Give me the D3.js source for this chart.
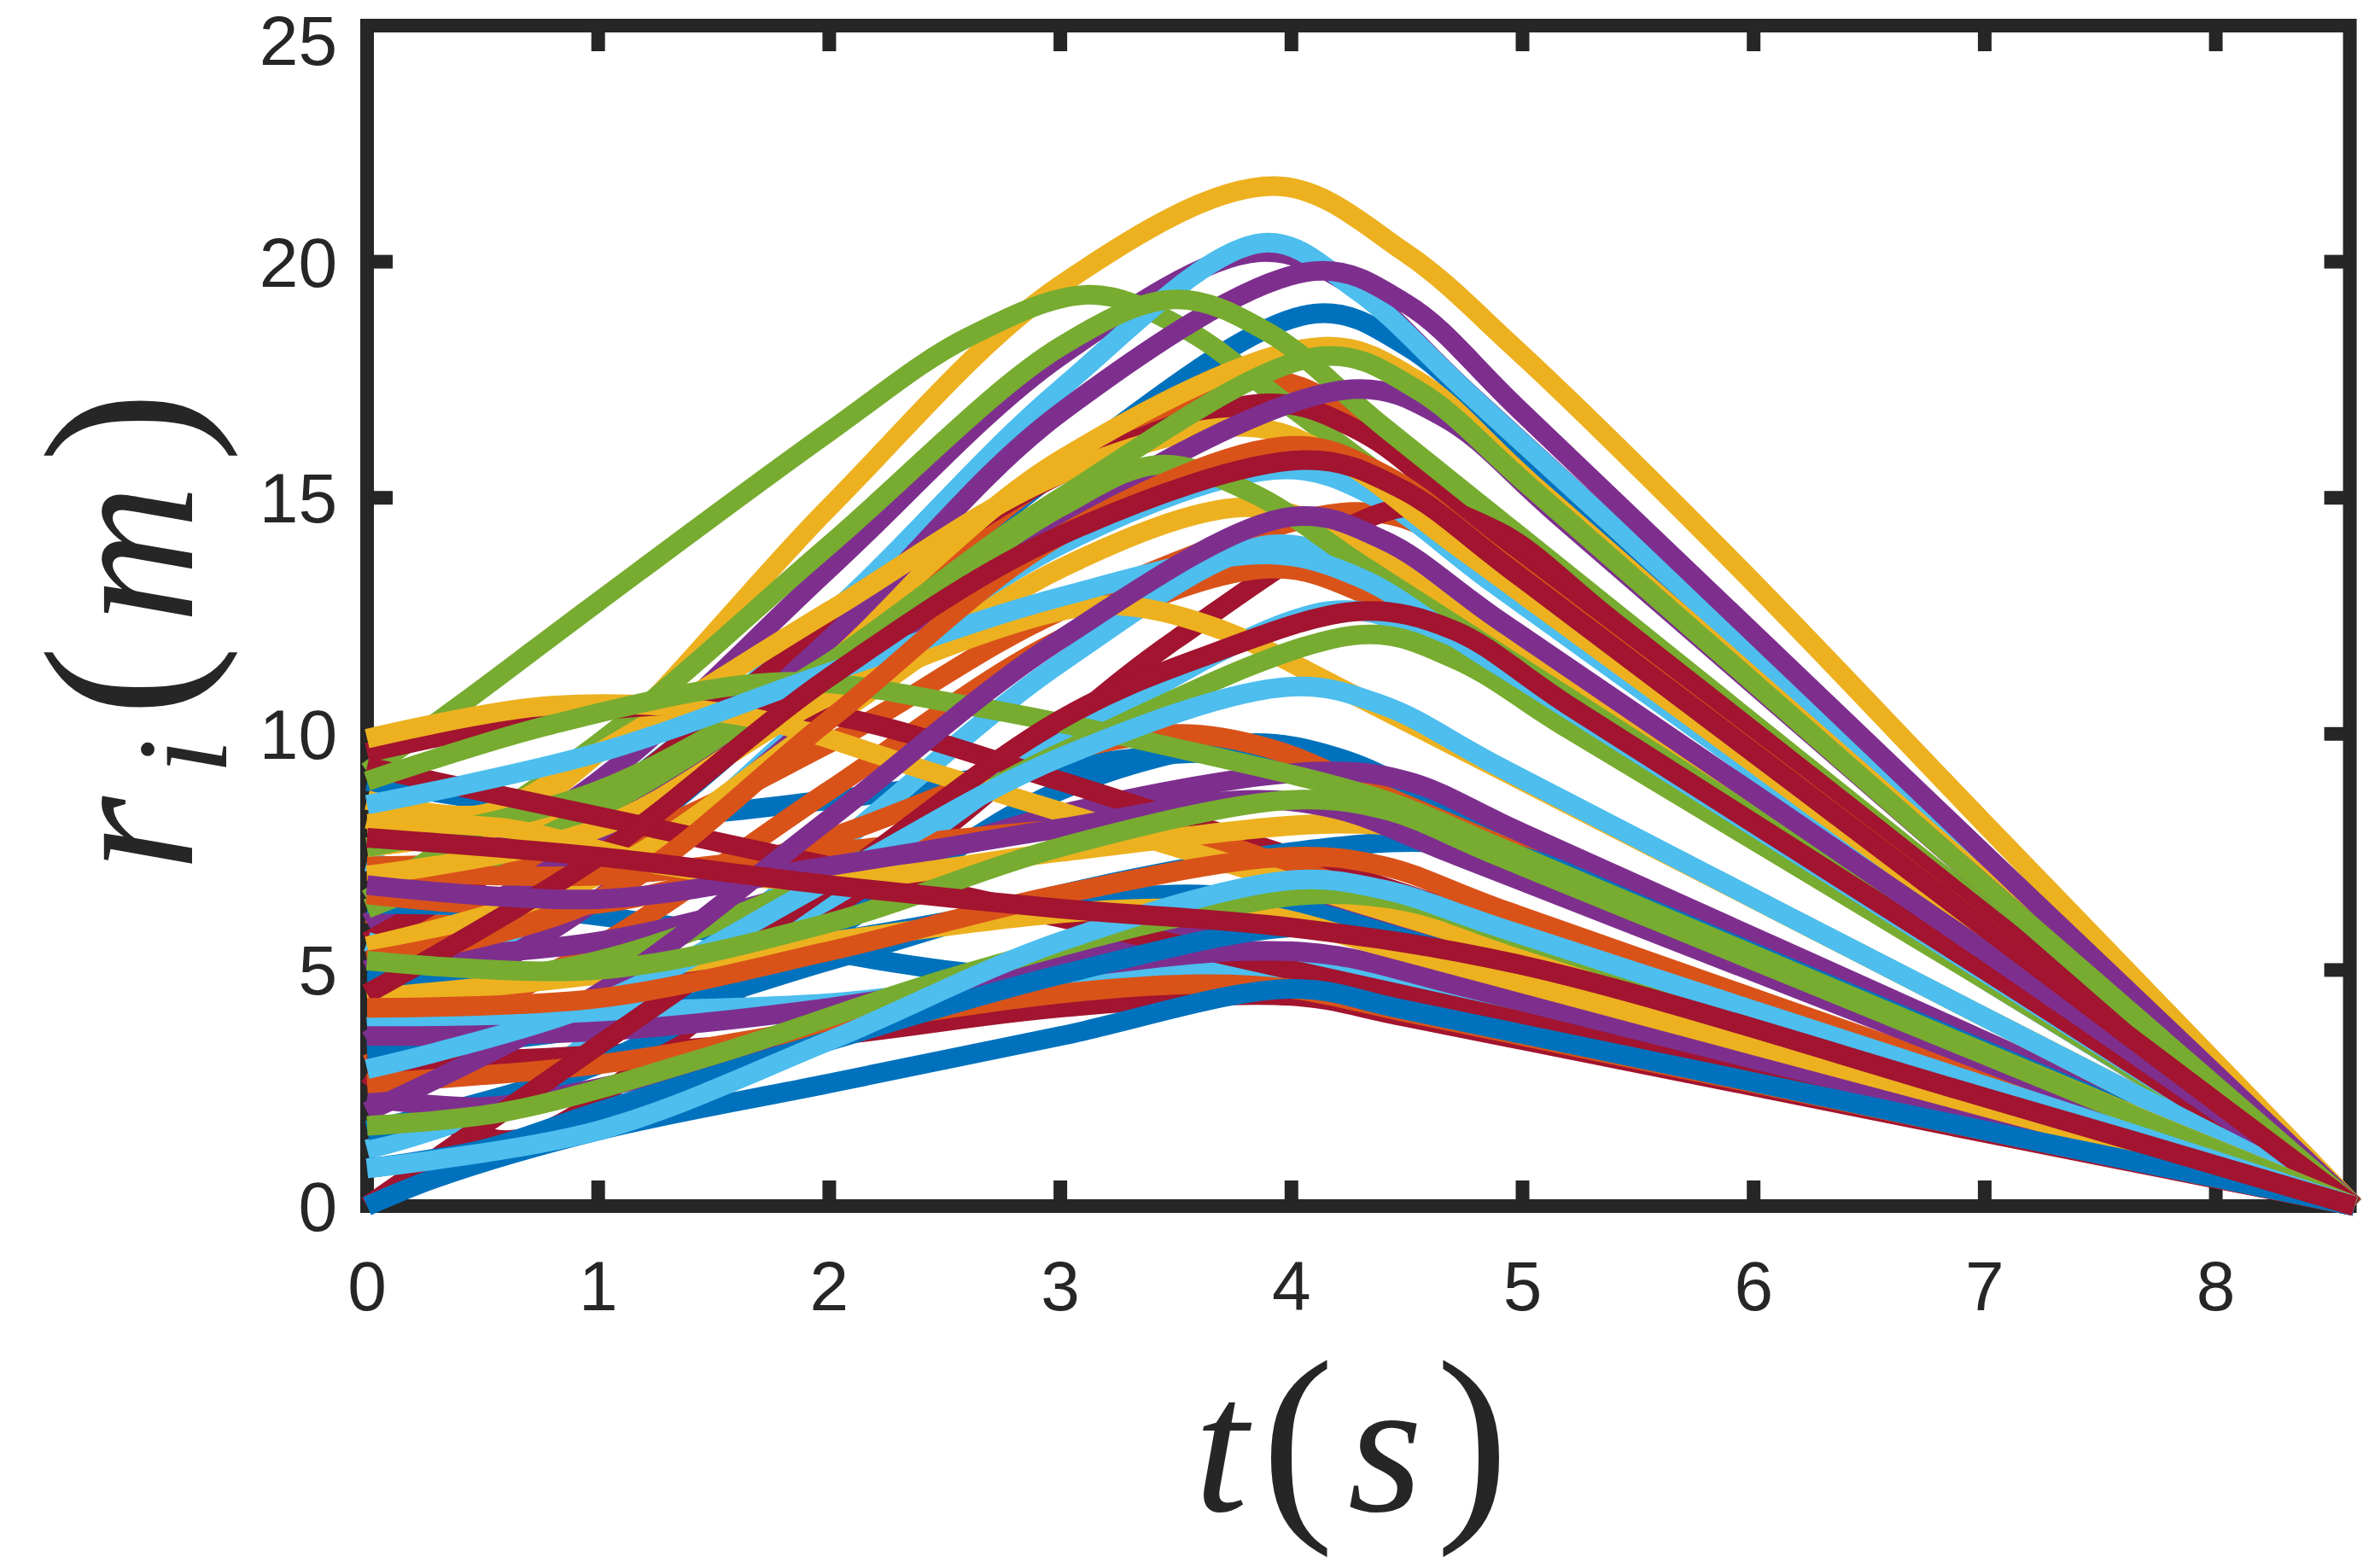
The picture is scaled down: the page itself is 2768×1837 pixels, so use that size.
<!DOCTYPE html>
<html>
<head>
<meta charset="utf-8">
<script src="https://cdn.jsdelivr.net/npm/d3@7"></script>
<style>
  body { margin: 0; background: #fff; }
</style>
</head>
<body>
<div id="chart"></div>
<script>
// MATLAB default colour order
const palette = ["#0072BD", "#D95319", "#EDB120", "#7E2F8E", "#77AC30", "#4DBEEE", "#A2142F"];

// each line: [t, r] knots; shortly after its peak every
// trajectory runs straight into (8.6, 0)
const blueLines = [
  [[0,5.0],[1,7.4],[2,11.4],[3,15.6],[4.1,18.9],[4.5,18.2],[5.0,16.0],[7,7.1],[8.6,0]],
  [[0,9.0],[0.5,8.6],[1,8.2],[2,8.6],[3,9.3],[3.7,9.6],[4.1,9.3],[4.6,8.3],[7,3.3],[8.6,0]],
  [[0,6.4],[0.7,6.3],[1.5,5.8],[2.5,5.0],[3.3,4.7],[4,4.6],[4.5,4.1],[7,1.65],[8.6,0]],
  [[0,1.6],[1,3.0],[2,5.8],[3,8.8],[3.8,9.8],[4.2,9.5],[4.7,8.4],[7,3.45],[8.6,0]],
  [[0,3.3],[1,3.8],[2,5.2],[3,6.6],[4,7.5],[4.6,7.7],[5.0,7.4],[5.5,6.4],[7,3.3],[8.6,0]],
  [[0,4.8],[1,4.9],[2,5.6],[3,6.4],[3.6,6.6],[4.0,6.35],[4.5,5.65],[7,2.2],[8.6,0]],
  [[0,0.8],[0.5,1.2],[1,2.0],[2,3.5],[3,4.9],[4,5.9],[4.4,5.7],[4.9,5.0],[7,2.2],[8.6,0]],
  [[0,0],[0.3,0.6],[1,1.6],[2,2.6],[3,3.6],[4,4.6],[4.5,4.15],[7,1.6],[8.6,0]]
];
const orangeLines = [
  [[0,6.2],[0.5,6.0],[1,7.5],[2,11.5],[3,15.6],[3.86,17.5],[4.26,16.8],[4.76,14.9],[7,6.2],[8.6,0]],
  [[0,7.2],[1,7.6],[2,9.8],[3,12.6],[4.26,14.7],[4.66,14.2],[5.16,12.4],[7,5.8],[8.6,0]],
  [[0,3.0],[1,5.5],[2,8.8],[3,12.0],[3.9,13.5],[4.3,13.0],[4.8,11.5],[7,4.8],[8.6,0]],
  [[0,6.6],[1,6.4],[2,7.8],[3,9.6],[3.5,10.0],[3.9,9.7],[4.4,8.7],[7,3.3],[8.6,0]],
  [[0,7.1],[1,7.0],[2,7.5],[3.2,8.0],[3.6,7.8],[4.1,7.0],[7,2.5],[8.6,0]],
  [[0,2.6],[1,3.0],[2,3.8],[3,4.5],[3.6,4.7],[4.0,4.6],[4.5,4.1],[7,1.6],[8.6,0]],
  [[0,5.2],[1,6.5],[2,10.3],[3,14.2],[4,16.1],[4.4,15.5],[4.9,13.7],[7,5.9],[8.6,0]],
  [[0,4.2],[1,4.4],[2,5.4],[3,6.6],[4,7.4],[4.4,7.2],[4.9,6.3],[7,2.7],[8.6,0]]
];
const yellowLines = [
  [[0,8.2],[0.5,8.0],[1,9.6],[2,14.8],[3,19.5],[3.93,21.6],[4.49,20.2],[4.96,18.2],[5.9,13.7],[7,8.1],[8.6,0]],
  [[0,7.6],[1,8.6],[2,11.8],[3,15.8],[4.14,18.2],[4.54,17.5],[5.04,15.3],[7,6.9],[8.6,0]],
  [[0,8.6],[0.5,8.3],[1,9.6],[2,12.6],[3,15.5],[3.81,16.5],[4.21,15.8],[4.71,14.0],[7,5.8],[8.6,0]],
  [[0,5.5],[1,7.0],[2,10.3],[3,13.5],[3.79,14.8],[4.19,14.3],[4.69,12.7],[7,5.2],[8.6,0]],
  [[0,7.0],[1,8.0],[2,10.8],[3,12.6],[3.3,12.7],[3.7,12.2],[4.2,11.0],[7,4.0],[8.6,0]],
  [[0,9.9],[0.8,10.6],[1.6,10.4],[2.5,9.1],[3.5,7.6],[4.5,6.1],[7,2.4],[8.6,0]],
  [[0,4.4],[1,4.9],[2,5.6],[3,6.2],[3.5,6.3],[3.9,6.15],[4.4,5.5],[7,2.1],[8.6,0]],
  [[0,8.1],[0.6,8.0],[1.3,7.2],[2,6.9],[3,7.5],[4.2,8.1],[4.6,7.9],[5.1,6.9],[7,3.2],[8.6,0]]
];
const purpleLines = [
  [[0,6.0],[1,9.0],[2,13.5],[3,18.0],[3.86,20.2],[4.26,19.5],[4.76,17.25],[7,7.2],[8.6,0]],
  [[0,5.0],[1,7.8],[2,12.0],[3,16.8],[4.1,19.8],[4.5,19.1],[5.0,16.8],[7,7.45],[8.6,0]],
  [[0,3.5],[1,6.5],[2,10.5],[3,14.5],[4.26,17.3],[4.66,16.7],[5.16,14.6],[7,6.8],[8.6,0]],
  [[0,5.2],[1,5.6],[2,6.8],[3,8.3],[4.1,9.2],[4.5,9.0],[5.0,7.9],[7,3.5],[8.6,0]],
  [[0,2.3],[0.5,2.1],[1,2.5],[2,3.7],[3,5.2],[4,6.3],[4.4,6.15],[4.9,5.4],[7,2.35],[8.6,0]],
  [[0,3.6],[1,3.7],[2,4.2],[3,5.0],[3.8,5.4],[4.2,5.3],[4.7,4.7],[7,1.9],[8.6,0]],
  [[0,2.0],[1,4.5],[2,8.2],[3,12.0],[4,14.6],[4.4,14.1],[4.9,12.4],[7,5.4],[8.6,0]],
  [[0,6.8],[1,6.5],[2,7.2],[3,8.0],[3.8,8.6],[4.2,8.4],[4.7,7.45],[7,3.05],[8.6,0]]
];
const greenLines = [
  [[0,9.2],[0.4,10.6],[1,12.8],[2,16.4],[2.6,18.4],[3.13,19.3],[3.53,18.6],[4.03,16.8],[7,5.9],[8.6,0]],
  [[0,6.5],[1,9.8],[2,14.0],[3,18.2],[3.5,19.2],[3.9,18.5],[4.4,16.5],[7,6.3],[8.6,0]],
  [[0,6.3],[1,8.4],[2,11.5],[3,15.0],[4.14,18.0],[4.54,17.3],[5.04,15.2],[7,6.8],[8.6,0]],
  [[0,7.6],[1,8.8],[2,11.5],[3,14.8],[3.43,15.7],[3.83,15.1],[4.33,13.5],[7,5.1],[8.6,0]],
  [[0,4.5],[1,5.2],[2,7.0],[3,9.6],[4.3,12.1],[4.7,11.6],[5.2,10.1],[7,4.8],[8.6,0]],
  [[0,9.0],[0.8,10.2],[1.8,11.1],[2.6,10.6],[3.5,9.7],[4.4,8.6],[4.9,7.6],[7,3.25],[8.6,0]],
  [[0,1.7],[0.6,2.0],[1.5,3.2],[2.5,4.8],[3.5,6.1],[4.1,6.6],[4.5,6.45],[5.0,5.65],[7,2.5],[8.6,0]],
  [[0,5.2],[1,5.0],[2,6.0],[3,7.6],[4,8.6],[4.4,8.4],[4.9,7.4],[7,3.2],[8.6,0]]
];
const lightBlueLines = [
  [[0,7.3],[0.5,7.0],[1,8.5],[2,12.5],[3,17.3],[3.88,20.4],[4.28,19.4],[4.78,17.15],[7,7.2],[8.6,0]],
  [[0,5.6],[0.35,5.3],[1,6.5],[2,10.6],[3,14.0],[3.97,15.6],[4.37,15.0],[4.87,13.2],[7,5.7],[8.6,0]],
  [[0,1.2],[0.5,2.0],[1,3.6],[2,7.5],[3,11.5],[3.9,14.0],[4.3,13.5],[4.8,11.9],[7,5.0],[8.6,0]],
  [[0,3.8],[1,4.2],[2,6.5],[3,9.8],[4.16,12.6],[4.56,12.2],[5.06,10.7],[7,4.8],[8.6,0]],
  [[0,3.8],[1,4.1],[2,4.3],[3,4.8],[4,5.0],[4.4,4.85],[4.9,4.3],[7,1.85],[8.6,0]],
  [[0,8.5],[1,9.6],[2,11.3],[3,12.9],[3.9,13.8],[4.3,13.3],[4.8,11.75],[7,4.95],[8.6,0]],
  [[0,2.9],[1,4.3],[2,6.9],[3,9.5],[4,11.0],[4.4,10.6],[4.9,9.3],[7,4.0],[8.6,0]],
  [[0,0.8],[1,1.6],[2,3.5],[3,5.6],[4,6.9],[4.4,6.7],[4.9,5.9],[7,2.55],[8.6,0]]
];
const darkRedLines = [
  [[0,5.6],[1,8.5],[2,12.3],[3,15.5],[3.9,17.0],[4.3,16.4],[4.8,14.5],[7,6.1],[8.6,0]],
  [[0,2.8],[0.62,1.4],[1.5,4.2],[2.5,8.0],[3.5,12.0],[4.49,14.8],[4.89,14.3],[5.39,12.4],[7,6.2],[8.6,0]],
  [[0,3.0],[1,3.2],[2,3.6],[3,4.2],[4,4.45],[4.5,4.0],[7,1.55],[8.6,0]],
  [[0,9.6],[0.6,10.2],[1.3,10.6],[2,10.4],[3,9.0],[4,7.4],[5,5.8],[7,2.6],[8.6,0]],
  [[0,9.3],[2,7.2],[4,5.0],[7,1.75],[8.6,0]],
  [[0,0],[1,3.4],[2,6.8],[3,10.3],[3.6,11.6],[4.3,12.6],[4.7,12.2],[5.2,10.6],[7,5.0],[8.6,0]],
  [[0,4.5],[1,7.4],[2,11.2],[3,14.2],[4.07,15.8],[4.47,15.2],[4.97,13.4],[7,5.9],[8.6,0]],
  [[0,7.8],[1,7.4],[2,6.8],[3,6.3],[4,5.9],[5,5.1],[7,2.3],[8.6,0]]
];

const xTicks = [0, 1, 2, 3, 4, 5, 6, 7, 8];
const yTicks = [0, 5, 10, 15, 20, 25];

const W = 2768, H = 1837;
const plotL = 430, plotR = 2758, plotT = 30, plotB = 1413;
const axisColor = "#262626";

const svg = d3.select("#chart").append("svg")
  .attr("width", W)
  .attr("height", H)
  .style("background", "#fff");

const x = d3.scaleLinear().domain([0, 8.6]).range([plotL, plotR]);
const y = d3.scaleLinear().domain([0, 25]).range([plotB, plotT]);

// plotting order follows the colour cycle, like MATLAB's hold on
const groups = [blueLines, orangeLines, yellowLines, purpleLines, greenLines, lightBlueLines, darkRedLines];
const series = [];
for (let k = 0; k < 8; k++) {
  groups.forEach((g, c) => { if (g[k]) series.push({pts: g[k], color: palette[c]}); });
}

// axes box
const boxRight = x(8.58);
svg.append("rect")
  .attr("x", plotL).attr("y", plotT)
  .attr("width", boxRight - plotL).attr("height", plotB - plotT)
  .attr("fill", "none")
  .attr("stroke", axisColor)
  .attr("stroke-width", 16);

const tickLen = 30;
// x ticks (bottom and top, inward)
svg.append("g").selectAll("line")
  .data(xTicks).enter().append("line")
  .attr("x1", d => x(d)).attr("x2", d => x(d))
  .attr("y1", plotB).attr("y2", plotB - tickLen)
  .attr("stroke", axisColor).attr("stroke-width", 16);
svg.append("g").selectAll("line")
  .data(xTicks).enter().append("line")
  .attr("x1", d => x(d)).attr("x2", d => x(d))
  .attr("y1", plotT).attr("y2", plotT + tickLen)
  .attr("stroke", axisColor).attr("stroke-width", 16);
// y ticks (left and right, inward)
svg.append("g").selectAll("line")
  .data(yTicks).enter().append("line")
  .attr("x1", plotL).attr("x2", plotL + tickLen)
  .attr("y1", d => y(d)).attr("y2", d => y(d))
  .attr("stroke", axisColor).attr("stroke-width", 16);
svg.append("g").selectAll("line")
  .data(yTicks).enter().append("line")
  .attr("x1", boxRight).attr("x2", boxRight - tickLen)
  .attr("y1", d => y(d)).attr("y2", d => y(d))
  .attr("stroke", axisColor).attr("stroke-width", 16);

// tick labels
svg.append("g").selectAll("text")
  .data(xTicks).enter().append("text")
  .attr("x", d => x(d))
  .attr("y", 1535)
  .attr("text-anchor", "middle")
  .style("font-family", "'Liberation Sans', Arial, sans-serif")
  .style("font-size", "82px")
  .style("fill", axisColor)
  .text(d => d);
svg.append("g").selectAll("text")
  .data(yTicks).enter().append("text")
  .attr("x", 395)
  .attr("y", d => Math.max(y(d) + 29, 76))
  .attr("text-anchor", "end")
  .style("font-family", "'Liberation Sans', Arial, sans-serif")
  .style("font-size", "82px")
  .style("fill", axisColor)
  .text(d => d);

// trajectories
const line = d3.line()
  .x(d => x(d[0]))
  .y(d => y(d[1]))
  .curve(d3.curveCatmullRom.alpha(0.5));

svg.append("g").selectAll("path")
  .data(series).enter().append("path")
  .attr("d", d => line(d.pts))
  .attr("fill", "none")
  .attr("stroke", d => d.color)
  .attr("stroke-width", 23)
  .attr("stroke-linejoin", "round");

// axis titles (LaTeX-like)
const serif = "'Liberation Serif', 'Times New Roman', serif";
const xt = svg.append("text")
  .attr("x", (plotL + boxRight) / 2)
  .attr("y", 1770)
  .attr("text-anchor", "middle")
  .style("font-family", serif)
  .style("font-size", "225px")
  .style("letter-spacing", "16px")
  .style("fill", axisColor);
xt.append("tspan").style("font-style", "italic").text("t");
xt.append("tspan").style("font-size", "255px").text("(");
xt.append("tspan").style("font-style", "italic").text("s");
xt.append("tspan").style("font-size", "255px").text(")");

const yt = svg.append("text")
  .attr("transform", "translate(225," + ((plotT + plotB) / 2 + 5) + ") rotate(-90)")
  .attr("text-anchor", "middle")
  .style("font-family", serif)
  .style("font-size", "225px")
  .style("letter-spacing", "26px")
  .style("fill", axisColor);
yt.append("tspan").style("font-style", "italic").text("r");
yt.append("tspan").style("font-style", "italic").style("font-size", "150px").attr("dy", 40).text("i");
yt.append("tspan").style("font-size", "250px").attr("dy", -40).text("(");
yt.append("tspan").style("font-style", "italic").text("m");
yt.append("tspan").style("font-size", "250px").text(")");
</script>
</body>
</html>
